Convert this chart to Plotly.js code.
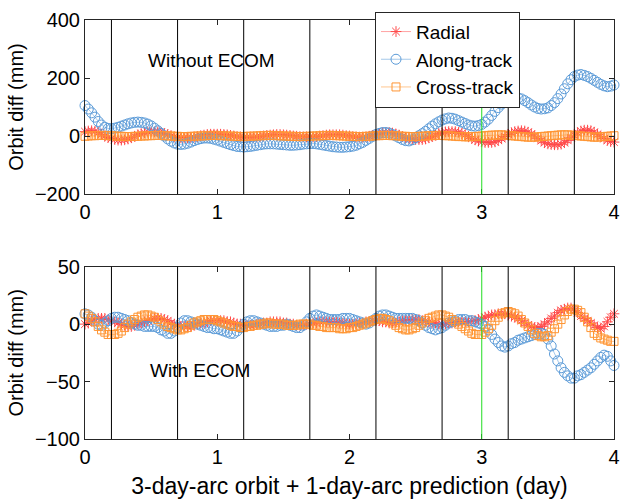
<!DOCTYPE html>
<html>
<head>
<meta charset="utf-8">
<script src="https://cdn.plot.ly/plotly-3.0.1.min.js"></script>
<style>
  html, body { margin: 0; padding: 0; background: #fff; }
  #chart { width: 622px; height: 501px; }
</style>
</head>
<body>
<div id="chart"></div>
<script>
// ---- Data (mm), sampled every 0.025 day from day 0 to day 4 ----
const DAY_STEP = 0.025;
const days = Array.from({length: 161}, (_, i) => +(i * DAY_STEP).toFixed(3));

const seriesNames = ['Radial', 'Along-track', 'Cross-track'];
const panelLabels = ['Without ECOM', 'With ECOM'];
const arcBoundaries = [0.2, 0.7, 1.2, 1.7, 2.2, 2.7, 3.2, 3.7];
const predictionStart = 3.0;
const xTicks = [0, 1, 2, 3, 4];
const yTicksTop = [-200, 0, 200, 400];
const yTicksBottom = [-100, -50, 0, 50];

// Without ECOM
const radialNoEcom = [
  15,17,18,16,12,6,0,-5,-9,-12,-14,-14,-13,-10,-6,-1,4,8,11,13,
  14,14,14,12,9,5,1,-3,-5,-6,-6,-6,-5,-4,-2,1,3,5,6,6,
  6,6,5,4,2,0,-2,-3,-4,-4,-4,-4,-3,-1,0,2,3,4,5,5,
  4,3,2,0,-1,-2,-3,-3,-3,-3,-2,0,1,3,4,4,4,4,3,1,
  0,-2,-3,-4,-4,-3,-1,2,5,8,11,12,12,10,7,3,-2,-6,-9,-11,
  -12,-12,-12,-10,-6,-2,3,8,11,14,15,15,15,13,9,4,-2,-8,-13,-17,
  -20,-22,-22,-22,-20,-15,-9,-2,5,11,15,17,18,17,13,7,0,-8,-16,-23,
  -27,-29,-30,-30,-28,-23,-15,-6,3,11,17,20,20,18,13,6,-2,-9,-15,-19,
  -21];
const alongNoEcom = [
  105,93,80,65,50,38,30,26,25,27,30,34,38,42,45,47,48,47,45,41,
  35,27,18,9,0,-10,-18,-24,-28,-29,-28,-25,-21,-16,-12,-9,-7,-7,-8,-11,
  -14,-18,-22,-26,-30,-33,-36,-37,-38,-37,-36,-34,-32,-30,-28,-27,-27,-27,-28,-29,
  -30,-31,-32,-32,-31,-30,-28,-27,-26,-26,-27,-29,-31,-33,-35,-37,-38,-39,-39,-38,
  -37,-35,-32,-27,-22,-15,-8,-1,5,9,12,12,10,5,0,-6,-12,-16,-17,-13,
  -6,1,8,16,25,34,42,49,55,59,62,61,58,53,48,43,38,35,34,36,
  40,48,58,71,85,98,110,119,126,130,132,131,128,122,115,107,100,95,93,94,
  97,105,115,129,145,163,180,194,205,210,212,209,205,199,192,185,178,173,170,172,
  176];
const crossNoEcom = [
  -1,0,1,1,2,2,2,1,1,0,-1,-1,-2,-2,-2,-1,-1,0,0,1,
  1,2,2,2,1,1,0,-1,-1,-2,-2,-2,-1,-1,0,0,1,1,2,2,
  2,1,1,0,0,-1,-1,-2,-2,-1,-1,0,0,1,1,2,2,2,1,1,
  0,0,-1,-1,-2,-2,-2,-1,-1,0,0,1,1,2,2,2,1,1,0,0,
  -1,-1,-2,-2,-2,-1,-1,0,1,1,2,2,2,1,1,0,-1,-1,-2,-2,
  -2,-1,-1,0,1,1,2,2,2,1,1,0,-1,-2,-2,-3,-3,-2,-2,-1,
  0,1,2,3,3,4,4,3,2,1,0,-1,-2,-3,-4,-4,-4,-3,-2,-1,
  0,1,2,3,4,4,4,3,2,1,0,-1,-2,-3,-4,-4,-3,-2,-1,0,
  1];

// With ECOM
const radialEcom = [
  0,1,3,4,5,5,5,4,3,2,1,0,-1,-2,-2,-1,0,1,2,3,
  4,5,5,5,4,3,1,0,-1,-2,-2,-2,-2,-1,0,1,1,2,3,3,
  3,3,3,2,2,1,0,0,-1,-1,-1,-1,0,0,1,1,2,2,2,2,
  1,1,0,0,-1,-1,-1,0,0,1,1,2,2,2,2,2,2,1,1,0,
  0,0,0,1,1,2,2,3,3,3,2,2,1,1,1,2,3,3,4,4,
  4,4,3,3,2,1,1,0,0,0,1,1,2,2,2,2,2,3,3,4,
  5,6,7,8,8,9,9,9,8,7,6,5,3,1,-1,-2,-3,-3,-2,0,
  2,5,7,10,12,13,14,14,12,10,7,5,3,1,-1,-3,-4,-2,2,6,
  9];
const alongEcom = [
  9,8,6,3,0,-1,1,3,5,6,6,5,4,3,1,0,-1,-1,-2,-2,
  -2,-2,-3,-5,-6,-8,-8,-6,-3,1,3,3,2,1,0,-1,-2,-3,-3,-4,
  -4,-5,-6,-7,-8,-8,-6,-3,0,2,3,3,2,1,0,-1,-2,-2,-2,-1,
  -1,0,-1,-2,-3,-3,-1,2,5,7,8,7,6,5,4,4,4,4,5,5,
  5,4,3,2,1,0,1,3,5,7,8,8,7,6,5,5,5,5,5,5,
  4,3,1,-1,-3,-4,-5,-4,-3,-1,1,2,3,4,4,4,3,3,2,1,
  0,-2,-5,-9,-13,-16,-19,-20,-19,-17,-16,-14,-13,-12,-11,-10,-9,-8,-8,-9,
  -13,-19,-26,-32,-38,-42,-45,-47,-47,-45,-44,-42,-40,-38,-35,-32,-29,-27,-28,-32,
  -36];
const crossEcom = [
  9,7,5,2,-2,-5,-7,-9,-9,-9,-8,-6,-3,0,2,4,6,7,8,8,
  7,6,4,2,0,-2,-3,-4,-5,-5,-4,-3,-1,1,2,3,4,4,4,4,
  3,2,1,0,-1,-2,-2,-3,-3,-2,-2,-1,-1,0,0,1,1,0,0,0,
  0,-1,-1,-1,-1,0,0,0,0,-1,-1,-2,-2,-3,-3,-3,-3,-4,-4,-4,
  -3,-3,-2,-1,0,1,2,3,4,5,5,4,3,1,-1,-3,-4,-5,-5,-4,
  -3,-1,1,3,5,6,7,8,8,7,6,4,2,0,-2,-4,-6,-8,-9,-9,
  -9,-7,-4,-1,3,6,9,10,11,10,9,7,4,1,-2,-5,-8,-10,-11,-11,
  -10,-7,-4,0,4,8,11,13,13,12,10,6,2,-3,-8,-10,-12,-13,-14,-15,
  -15];

// ---- Styles ----
const FONT = 'Liberation Sans, Arial, Helvetica, sans-serif';
const styles = [
  {color: '#ff4a4a', line: 'rgba(255,90,90,0.55)', symbol: 'asterisk-open', size: 9},
  {color: '#5b9bd8', line: 'rgba(91,155,216,0.55)', symbol: 'circle-open', size: 10},
  {color: '#ff9533', line: 'rgba(255,149,51,0.55)', symbol: 'square-open', size: 8}
];

function makeTrace(y, k, xa, ya, showlegend) {
  const s = styles[k];
  return {
    x: days, y: y, xaxis: xa, yaxis: ya,
    type: 'scatter', mode: 'lines+markers',
    name: seriesNames[k], showlegend: showlegend, cliponaxis: false,
    line: {color: s.line, width: 1},
    marker: {symbol: s.symbol, size: s.size, color: s.color,
             line: {color: s.color, width: 1}}
  };
}

const data = [
  makeTrace(radialNoEcom, 0, 'x', 'y', true),
  makeTrace(alongNoEcom, 1, 'x', 'y', true),
  makeTrace(crossNoEcom, 2, 'x', 'y', true),
  makeTrace(radialEcom, 0, 'x2', 'y2', false),
  makeTrace(alongEcom, 1, 'x2', 'y2', false),
  makeTrace(crossEcom, 2, 'x2', 'y2', false)
];

const shapes = [];
['x', 'x2'].forEach((xr, p) => {
  const yr = p === 0 ? 'y domain' : 'y2 domain';
  arcBoundaries.forEach(d => shapes.push({
    type: 'line', xref: xr, yref: yr, x0: d, x1: d, y0: 0, y1: 1,
    line: {color: '#000', width: 1}, layer: 'above'
  }));
  shapes.push({
    type: 'line', xref: xr, yref: yr, x0: predictionStart, x1: predictionStart, y0: 0, y1: 1,
    line: {color: '#22dd22', width: 1}, layer: 'above'
  });
});

const W = 622, H = 501;
const xDomain = [85 / W, 614 / W];
const axisCommon = {
  showline: true, linecolor: '#262626', linewidth: 1, mirror: 'ticks',
  ticks: 'inside', ticklen: 5, tickcolor: '#262626', tickwidth: 1,
  showgrid: false, zeroline: false,
  tickfont: {family: FONT, size: 20, color: '#000'}
};

const layout = {
  width: W, height: H,
  paper_bgcolor: '#fff', plot_bgcolor: '#fff',
  margin: {l: 0, r: 0, t: 0, b: 0},
  showlegend: true,
  font: {family: FONT, color: '#000'},
  xaxis: Object.assign({}, axisCommon, {
    domain: xDomain, anchor: 'y', range: [0, 4], tickvals: xTicks
  }),
  yaxis: Object.assign({}, axisCommon, {
    domain: [1 - 194 / H, 1 - 20 / H], anchor: 'x', range: [-200, 400], tickvals: yTicksTop,
    title: {text: 'Orbit diff (mm)', font: {family: FONT, size: 20, color: '#000'}, standoff: 5}
  }),
  xaxis2: Object.assign({}, axisCommon, {
    domain: xDomain, anchor: 'y2', range: [0, 4], tickvals: xTicks,
    title: {text: '3-day-arc orbit + 1-day-arc prediction (day)', font: {family: FONT, size: 23, color: '#000'}, standoff: 10}
  }),
  yaxis2: Object.assign({}, axisCommon, {
    domain: [1 - 439 / H, 1 - 266.7 / H], anchor: 'x2', range: [-100, 50], tickvals: yTicksBottom,
    title: {text: 'Orbit diff (mm)', font: {family: FONT, size: 20, color: '#000'}, standoff: 5}
  }),
  legend: {
    x: 375 / W, y: 1 - 11.7 / H, xanchor: 'left', yanchor: 'top',
    bgcolor: '#fff', bordercolor: '#262626', borderwidth: 1,
    font: {family: FONT, size: 19, color: '#000'},
    tracegroupgap: 0
  },
  annotations: [
    {text: panelLabels[0], xref: 'x', yref: 'y', x: 0.957, y: 262, showarrow: false,
     font: {family: FONT, size: 19, color: '#000'}},
    {text: panelLabels[1], xref: 'x2', yref: 'y2', x: 0.87, y: -40, showarrow: false,
     font: {family: FONT, size: 19, color: '#000'}}
  ],
  shapes: shapes
};

Plotly.newPlot('chart', data, layout, {displayModeBar: false, staticPlot: true});
</script>
</body>
</html>
